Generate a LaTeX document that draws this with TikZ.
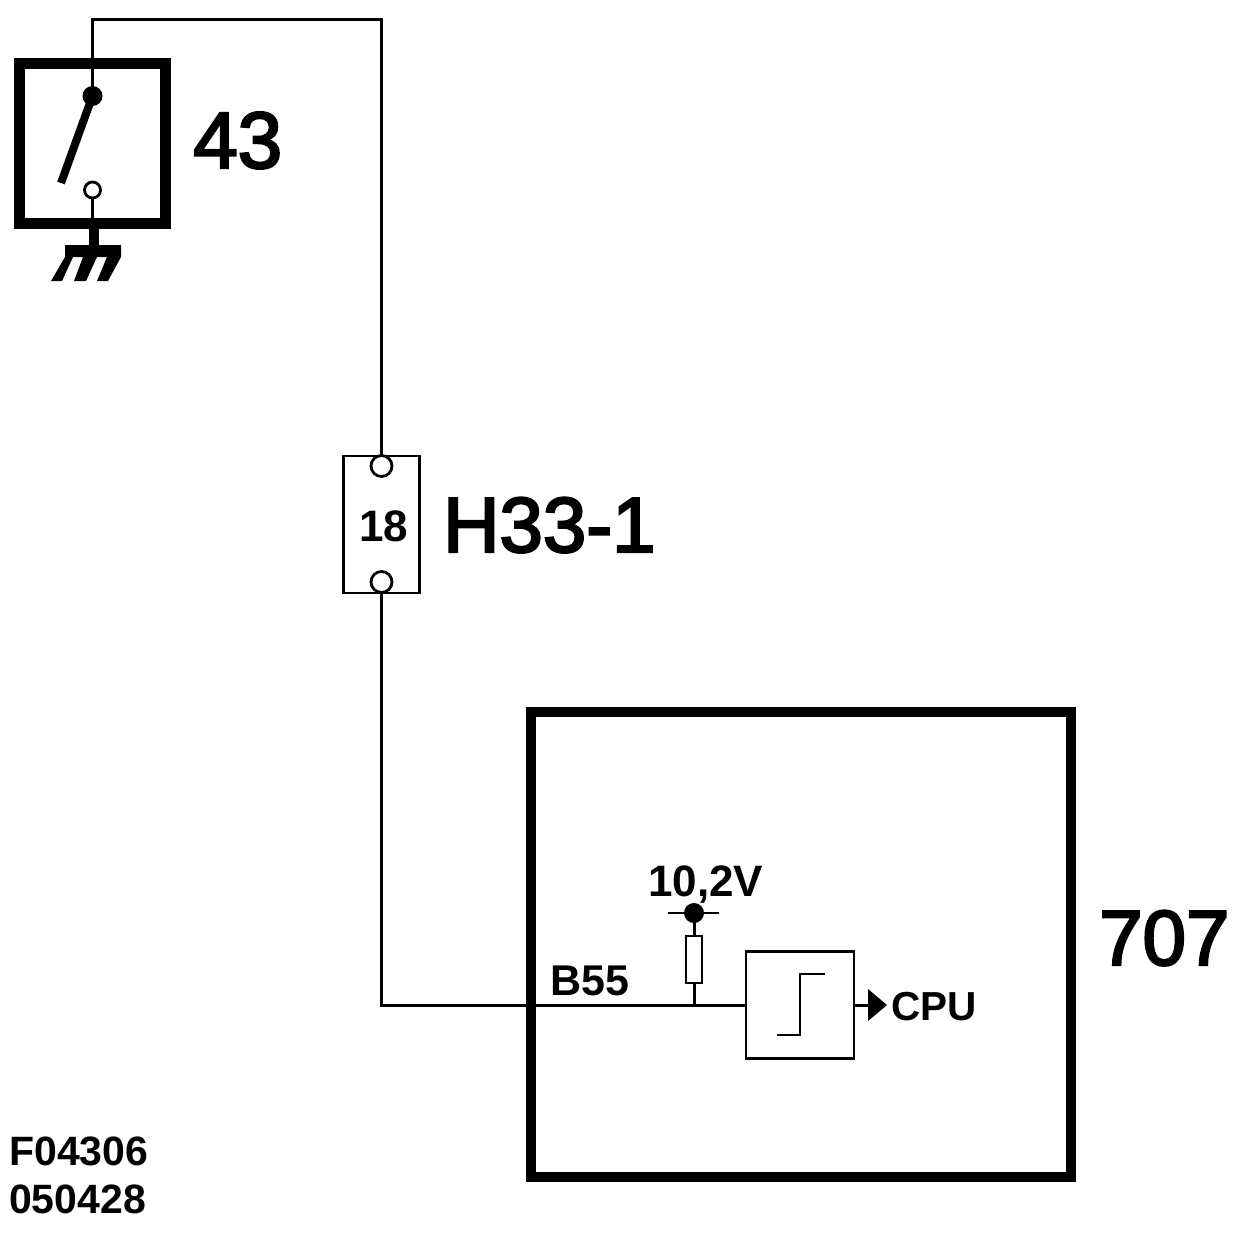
\documentclass[tikz,border=0pt]{standalone}
\usepackage{fontspec}
\setmainfont{Liberation Sans}
\newfontfamily\lab[FakeBold=3]{Liberation Sans}
\newfontfamily\labb{Liberation Sans Bold}
\begin{document}
\begin{tikzpicture}[x=1pt,y=-1pt,
  wire/.style={line width=3pt,line cap=butt,line join=miter},
  thick box/.style={draw,line width=11pt,inner sep=0pt,outer sep=0pt,fill=none},
  thin box/.style={draw,line width=2.8pt,inner sep=0pt,outer sep=0pt,fill=white},
  dot/.style={circle,fill=black,inner sep=0pt,outer sep=0pt,minimum size=20pt},
  pin/.style={circle,draw,fill=white,line width=2.8pt,inner sep=0pt,outer sep=0pt},
  big/.style={anchor=base west,inner sep=0pt,font=\lab\fontsize{80pt}{80pt}\selectfont},
  small/.style={anchor=base west,inner sep=0pt,font=\labb\fontsize{43pt}{43pt}\selectfont}]
\useasboundingbox (0,0) rectangle (1248,1240);
% switch 43
\node[thick box,minimum width=146pt,minimum height=160pt] (sw) at (92.5,143.5) {};
\node[dot] (swdot) at (92.5,96) {};
\node[pin,minimum size=16pt] (swpin) at (92.5,190) {};
\coordinate (blade) at (61,183);
\draw[line width=8pt] (swdot.center) -- (blade);
\draw[wire] (swpin.south) -- (92.5,218);
\draw[line width=10pt] (94,229) -- (94,246);
\fill (65,245) -- (121,245) -- (121,257) -- (108,281) -- (97,281) -- (107,257) -- (97,257) -- (86,281) -- (74,281) -- (83,257) -- (73,257) -- (62,281) -- (51,281) -- (65,257) -- cycle;
\node[big] (l43) at (193,168) {43};
% connector H33-1
\node[thin box,minimum width=76pt,minimum height=137pt,fill=none] (conn) at (381.7,524.5) {};
\node[pin,minimum size=21pt] (ctop) at (381.5,466) {};
\node[pin,minimum size=21pt] (cbot) at (381.5,582) {};
\node[anchor=base,inner sep=0pt,font=\labb\fontsize{44pt}{44pt}\selectfont] (n18) at (384,541) {18};
\node[big,font=\lab\fontsize{78pt}{78pt}\selectfont] (lh) at (443,552) {H33-1};
% ECU 707
\node[thick box,line width=10pt,minimum width=540pt,minimum height=465pt] (ecu) at (801,944.5) {};
\node[big,font=\lab\fontsize{78pt}{78pt}\selectfont] (l707) at (1099,965) {707};
\node[thin box,minimum width=108pt,minimum height=107pt] (trig) at (800,1005) {};
\draw[line width=2.8pt] (776.5,1035) -- (800,1035) -- (800,974) -- (824.5,974);
\node[dot] (vdot) at (694,913) {};
\coordinate (vl) at (668,913);
\coordinate (vr) at (719,913);
\draw[line width=2.8pt] (vl) -- (vr);
\coordinate (junc) at (694,1005);
\node[thin box,minimum width=16pt,minimum height=47pt] (res) at (694,959.5) {};
\draw[wire] (vdot.center) -- (res.north);
\draw[wire] (res.south) -- (junc);
\node[small,font=\labb\fontsize{44pt}{44pt}\selectfont] (lv) at (648,896) {10,2V};
\node[small] (lb) at (550,995) {B55};
\node[small,font=\labb\fontsize{40.5pt}{40.5pt}\selectfont] (lcpu) at (891,1020) {CPU};
\coordinate (tip) at (887,1005);
\fill (868,989) -- (tip) -- (868,1021) -- cycle;
\draw[wire] (trig.east) -- (869,1005);
% wiring
\draw[wire] (swdot.center) -- (92.5,19.5) -| (ctop.north);
\draw[wire] (cbot.south) |- (trig.west);
% footer
\node[small,font=\labb\fontsize{41pt}{41pt}\selectfont] (f1) at (9,1165) {F04306};
\node[small,font=\labb\fontsize{41pt}{41pt}\selectfont] (f2) at (9,1213) {050428};
\end{tikzpicture}
\end{document}
